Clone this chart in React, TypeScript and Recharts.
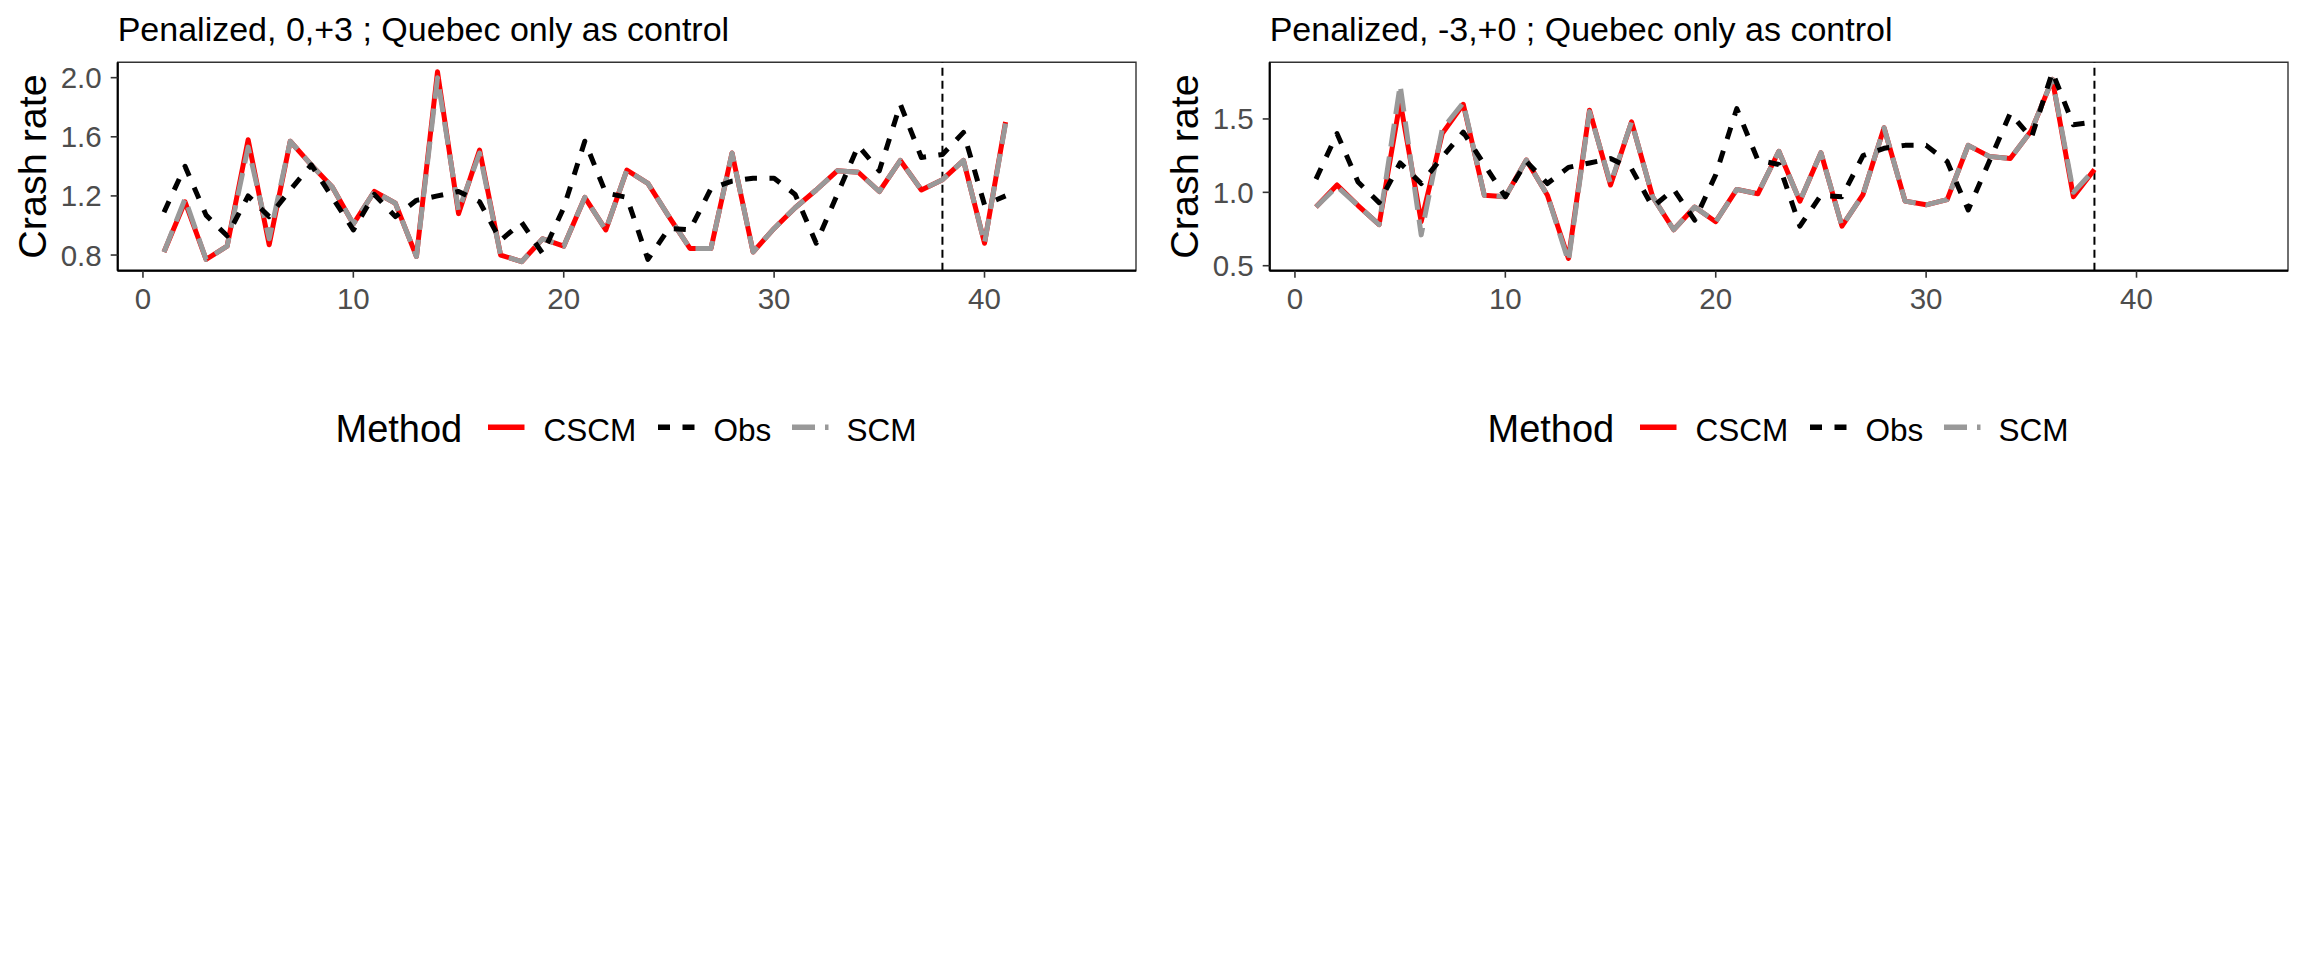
import React from "react";
import { LineChart, Line, XAxis, YAxis, ReferenceLine, ReferenceArea } from "recharts";

// ---------- data ----------
const PERIOD = [1, 2, 3, 4, 5, 6, 7, 8, 9, 10, 11, 12, 13, 14, 15, 16, 17, 18, 19, 20, 21, 22, 23, 24, 25, 26, 27, 28, 29, 30, 31, 32, 33, 34, 35, 36, 37, 38, 39, 40, 41];

const OBS = [1.09, 1.40, 1.07, 0.93, 1.20, 1.06, 1.24, 1.41, 1.19, 0.97, 1.21, 1.06, 1.17, 1.20, 1.23, 1.16, 0.90, 1.02, 0.81, 1.12, 1.57, 1.22, 1.19, 0.77, 0.98, 0.97, 1.25, 1.30, 1.32, 1.32, 1.21, 0.88, 1.21, 1.54, 1.37, 1.82, 1.46, 1.48, 1.63, 1.14, 1.20];

// Panel A: Penalized, 0,+3
const CSCM_A = [0.82, 1.16, 0.77, 0.86, 1.58, 0.87, 1.57, 1.41, 1.26, 1.01, 1.23, 1.15, 0.79, 2.04, 1.08, 1.51, 0.80, 0.755, 0.91, 0.86, 1.19, 0.97, 1.375, 1.285, 1.06, 0.845, 0.845, 1.49, 0.82, 0.98, 1.12, 1.24, 1.37, 1.36, 1.23, 1.44, 1.24, 1.31, 1.44, 0.88, 1.70];
const SCM_A = [0.82, 1.18, 0.77, 0.86, 1.53, 0.91, 1.57, 1.41, 1.26, 1.01, 1.23, 1.15, 0.79, 2.00, 1.10, 1.49, 0.80, 0.755, 0.91, 0.86, 1.19, 0.97, 1.375, 1.285, 1.06, 0.845, 0.845, 1.49, 0.82, 0.98, 1.12, 1.24, 1.37, 1.36, 1.23, 1.44, 1.24, 1.31, 1.44, 0.88, 1.69];

// Panel B: Penalized, -3,+0 (periods 1..38)
const CSCM_B = [0.90, 1.05, 0.91, 0.78, 1.62, 0.80, 1.40, 1.60, 0.98, 0.97, 1.22, 0.98, 0.55, 1.56, 1.05, 1.48, 0.97, 0.745, 0.90, 0.80, 1.02, 0.99, 1.28, 0.94, 1.27, 0.77, 0.985, 1.44, 0.94, 0.915, 0.95, 1.32, 1.245, 1.23, 1.42, 1.77, 0.97, 1.155];
const SCM_B = [0.90, 1.04, 0.91, 0.78, 1.73, 0.71, 1.43, 1.61, 0.98, 0.97, 1.22, 0.98, 0.53, 1.55, 1.06, 1.48, 0.97, 0.745, 0.90, 0.80, 1.02, 0.99, 1.28, 0.94, 1.27, 0.77, 0.985, 1.44, 0.94, 0.915, 0.95, 1.32, 1.245, 1.23, 1.42, 1.77, 1.00, 1.155];

const X_TICKS = [0, 10, 20, 30, 40];
const Y_TICKS_A = [0.8, 1.2, 1.6, 2.0];
const Y_TICKS_B = [0.5, 1.0, 1.5];
const X_DOMAIN: [number, number] = [-1.2, 47.2];
const Y_DOMAIN_A: [number, number] = [0.694, 2.104];
const Y_DOMAIN_B: [number, number] = [0.466, 1.886];
const TITLE_A = "Penalized, 0,+3 ; Quebec only as control";
const TITLE_B = "Penalized, -3,+0 ; Quebec only as control";
const Y_LABEL = "Crash rate";
const LEGEND_TITLE = "Method";
const INTERVENTION = 38;

// ---------- styles ----------
const FONT = "'Liberation Sans', Arial, Helvetica, sans-serif";
const SERIES = [
  { key: "cscm", name: "CSCM", color: "#FF0000", dash: undefined as string | undefined },
  { key: "scm", name: "SCM", color: "#999999", dash: "23 10" },
  { key: "obs", name: "Obs", color: "#000000", dash: "12 12.5" },
];
const LEGEND_ORDER = ["CSCM", "Obs", "SCM"];
const LEGEND_KEY_X = [488, 658, 792];
const LEGEND_LABEL_X = [543.5, 713.5, 846.5];

function buildRows(periods: number[], cols: Record<string, number[]>) {
  return periods.map((t, i) => {
    const row: Record<string, number> = { t };
    Object.keys(cols).forEach((k) => {
      const v = cols[k][i];
      if (v !== undefined) row[k] = v;
    });
    return row;
  });
}

const ROWS_A = buildRows(PERIOD, { cscm: CSCM_A, scm: SCM_A, obs: OBS });
const ROWS_B = buildRows(PERIOD.slice(0, 38), { cscm: CSCM_B, scm: SCM_B, obs: OBS.slice(0, 38) });

const W = 1152;
const H = 330;
const PLOT_LEFT = 117.7;
const PLOT_TOP = 62.3;
const PLOT_BOTTOM = 270.7;

function Panel({ rows, yDomain, yTicks, title, left }: { rows: any[]; yDomain: [number, number]; yTicks: number[]; title: string; left: number }) {
  const tickStyle = { fill: "#4D4D4D", fontSize: 29.5, fontFamily: FONT };
  return (
    <div style={{ position: "absolute", left, top: 0, width: W, height: 480 }}>
      <LineChart width={W} height={H} data={rows} margin={{ top: PLOT_TOP, right: 16, bottom: H - PLOT_BOTTOM - 50, left: 0 }}>
        <XAxis
          dataKey="t"
          type="number"
          domain={X_DOMAIN}
          ticks={X_TICKS}
          interval={0}
          allowDataOverflow
          height={50}
          tickSize={7}
          tickMargin={10}
          tick={tickStyle}
          axisLine={{ stroke: "#000000", strokeWidth: 2.2 }}
          tickLine={{ stroke: "#333333", strokeWidth: 1.6 }}
        />
        <YAxis
          type="number"
          domain={yDomain}
          ticks={yTicks}
          interval={0}
          allowDataOverflow
          width={PLOT_LEFT}
          tickSize={7}
          tickMargin={9}
          tick={tickStyle}
          tickFormatter={(v: number) => v.toFixed(1)}
          axisLine={{ stroke: "#000000", strokeWidth: 2.2 }}
          tickLine={{ stroke: "#333333", strokeWidth: 1.6 }}
        />
        <ReferenceArea
          x1={X_DOMAIN[0]}
          x2={X_DOMAIN[1]}
          y1={yDomain[0]}
          y2={yDomain[1]}
          fill="none"
          fillOpacity={0}
          stroke="#333333"
          strokeWidth={1.4}
          ifOverflow="visible"
        />
        <ReferenceLine x={INTERVENTION} stroke="#000000" strokeWidth={2} strokeDasharray="8 5" />
        {SERIES.map((s) => (
          <Line
            key={s.key}
            dataKey={s.key}
            name={s.name}
            type="linear"
            stroke={s.color}
            strokeWidth={5}
            strokeDasharray={s.dash}
            strokeLinejoin="round"
            strokeLinecap="butt"
            dot={false}
            activeDot={false}
            isAnimationActive={false}
            connectNulls={false}
          />
        ))}
      </LineChart>
      <svg width={W} height={480} style={{ position: "absolute", left: 0, top: 0, pointerEvents: "none" }}>
        <text x={PLOT_LEFT} y={40.7} fontSize={34} fontFamily={FONT} fill="#000000">
          {title}
        </text>
        <text
          transform={`translate(45.5, ${(PLOT_TOP + PLOT_BOTTOM) / 2}) rotate(-90)`}
          textAnchor="middle"
          fontSize={39.5}
          fontFamily={FONT}
          fill="#000000"
        >
          {Y_LABEL}
        </text>
        <text x={335.5} y={441.7} fontSize={38} fontFamily={FONT} fill="#000000">
          {LEGEND_TITLE}
        </text>
        {LEGEND_ORDER.map((name, i) => {
          const s = SERIES.find((q) => q.name === name)!;
          return (
            <g key={name}>
              <line
                x1={LEGEND_KEY_X[i]}
                x2={LEGEND_KEY_X[i] + 36.5}
                y1={427.3}
                y2={427.3}
                stroke={s.color}
                strokeWidth={5.5}
                strokeDasharray={s.dash}
              />
              <text x={LEGEND_LABEL_X[i]} y={440.7} fontSize={31.5} fontFamily={FONT} fill="#000000">
                {name}
              </text>
            </g>
          );
        })}
      </svg>
    </div>
  );
}

export default function App() {
  return (
    <div style={{ position: "absolute", left: 0, top: 0, width: 2304, height: 960, background: "#FFFFFF", overflow: "hidden" }}>
      <Panel rows={ROWS_A} yDomain={Y_DOMAIN_A} yTicks={Y_TICKS_A} title={TITLE_A} left={0} />
      <Panel rows={ROWS_B} yDomain={Y_DOMAIN_B} yTicks={Y_TICKS_B} title={TITLE_B} left={1152} />
    </div>
  );
}
